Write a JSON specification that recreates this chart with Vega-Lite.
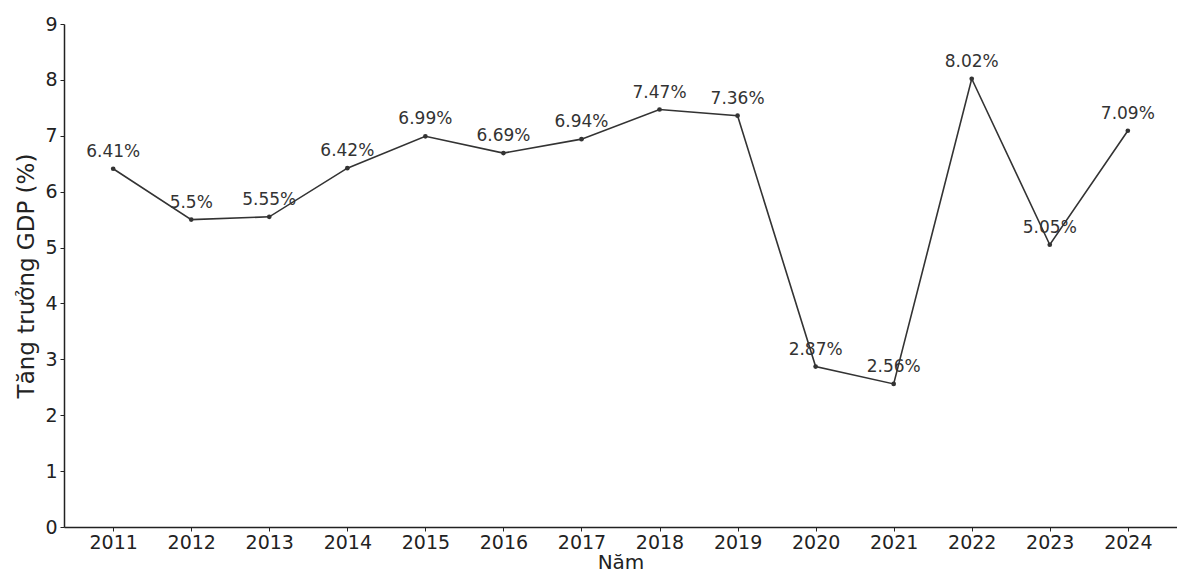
{
  "$schema": "https://vega.github.io/schema/vega-lite/v6.json",
  "autosize": "none",
  "width": 1113,
  "height": 503,
  "padding": {"left": 64, "top": 24, "right": 0, "bottom": 47},
  "background": "white",
  "config": {
    "view": {"stroke": null},
    "font": "DejaVu Sans",
    "axis": {"grid": false, "domainColor": "#222", "tickColor": "#222", "labelColor": "#222", "titleColor": "#222", "labelFont": "DejaVu Sans", "titleFont": "DejaVu Sans", "titleFontWeight": "normal", "labelFontSize": 19, "titleFontSize": 20, "domainWidth": 1.5, "tickSize": 4}
  },
  "data": {
    "values": [
      {"nam": 2011, "g": 6.41},
      {"nam": 2012, "g": 5.5},
      {"nam": 2013, "g": 5.55},
      {"nam": 2014, "g": 6.42},
      {"nam": 2015, "g": 6.99},
      {"nam": 2016, "g": 6.69},
      {"nam": 2017, "g": 6.94},
      {"nam": 2018, "g": 7.47},
      {"nam": 2019, "g": 7.36},
      {"nam": 2020, "g": 2.87},
      {"nam": 2021, "g": 2.56},
      {"nam": 2022, "g": 8.02},
      {"nam": 2023, "g": 5.05},
      {"nam": 2024, "g": 7.09}
    ]
  },
  "transform": [{"calculate": "format(datum.g, '.2~f') + '%'", "as": "label"}],
  "encoding": {
    "x": {"field": "nam", "type": "quantitative", "scale": {"domain": [2010.37, 2024.63], "nice": false, "zero": false},
      "axis": {"values": [2011,2012,2013,2014,2015,2016,2017,2018,2019,2020,2021,2022,2023,2024], "format": "d", "title": "Năm", "titlePadding": 0, "labelPadding": 2}},
    "y": {"field": "g", "type": "quantitative", "scale": {"domain": [0, 9], "nice": false},
      "axis": {"values": [0,1,2,3,4,5,6,7,8,9], "title": "Tăng trưởng GDP (%)", "titleFontSize": 23, "titlePadding": 6, "labelPadding": 3}}
  },
  "layer": [
    {"mark": {"type": "line", "color": "#333", "strokeWidth": 1.6}},
    {"mark": {"type": "point", "filled": true, "color": "#333", "size": 22, "opacity": 1}},
    {"mark": {"type": "text", "dy": -17, "fontSize": 17, "color": "#333", "font": "DejaVu Sans"}, "encoding": {"text": {"field": "label"}}}
  ]
}
